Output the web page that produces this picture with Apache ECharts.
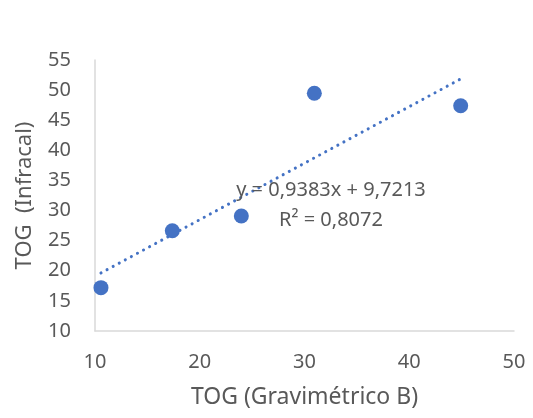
<!DOCTYPE html>
<html><head><meta charset="utf-8">
<script src="https://cdn.jsdelivr.net/npm/echarts@6/dist/echarts.min.js"></script>
<style>html,body{margin:0;padding:0;background:#fff}#c{width:533px;height:418px}</style>
</head><body><div id="c"></div>
<script>
const xValues = [10.57, 17.38, 23.97, 30.94, 44.91];
const yValues = [17.2, 26.65, 29.1, 49.47, 47.41];
const trendX = [10.57, 44.91];
const trendY = [19.64, 51.86];
const xTicks = [10, 20, 30, 40, 50];
const yTicks = [10, 15, 20, 25, 30, 35, 40, 45, 50, 55];
const eqText = 'y = 0,9383x + 9,7213';
const r2Text = 'R² = 0,8072';

const FONT = 'Noto Sans';
const chart = echarts.init(document.getElementById('c'));
chart.setOption({
  animation: false,
  backgroundColor: '#fff',
  grid: {left: 95, right: 19, top: 60, bottom: 87},
  xAxis: {
    type: 'value', min: xTicks[0], max: xTicks[xTicks.length-1], interval: 10,
    name: 'TOG (Gravimétrico B)', nameLocation: 'middle', nameGap: 55,
    nameTextStyle: {color: '#595959', fontSize: 23, fontFamily: FONT},
    axisLine: {show: true, lineStyle: {color: '#d9d9d9', width: 1.5}},
    axisTick: {show: false}, splitLine: {show: false},
    axisLabel: {color: '#595959', fontSize: 20, fontFamily: FONT, margin: 21}
  },
  yAxis: {
    type: 'value', min: yTicks[0], max: yTicks[yTicks.length-1], interval: 5,
    name: 'TOG  (Infracal)', nameLocation: 'middle', nameGap: 59,
    nameTextStyle: {color: '#595959', fontSize: 22, fontFamily: FONT},
    axisLine: {show: true, lineStyle: {color: '#d9d9d9', width: 1.5}},
    axisTick: {show: false}, splitLine: {show: false},
    axisLabel: {color: '#595959', fontSize: 20, fontFamily: FONT, margin: 24}
  },
  series: [
    {
      type: 'line', data: trendX.map((x,i)=>[x, trendY[i]]), symbol: 'none',
      lineStyle: {color: '#4472c4', width: 3, type: [0.1, 6.8], cap: 'round'}, z: 1
    },
    {
      type: 'scatter', data: xValues.map((x,i)=>[x, yValues[i]]),
      symbolSize: 15, itemStyle: {color: '#4472c4', opacity: 1}, z: 2
    }
  ],
  graphic: [
    {type: 'text', x: 331, y: 190, style: {text: eqText, fill: '#595959', font: '20px "Noto Sans"', textAlign: 'center', textVerticalAlign: 'middle'}, z: 10},
    {type: 'text', x: 331, y: 220, style: {text: r2Text, fill: '#595959', font: '20px "Noto Sans"', textAlign: 'center', textVerticalAlign: 'middle'}, z: 10}
  ]
});
</script></body></html>
